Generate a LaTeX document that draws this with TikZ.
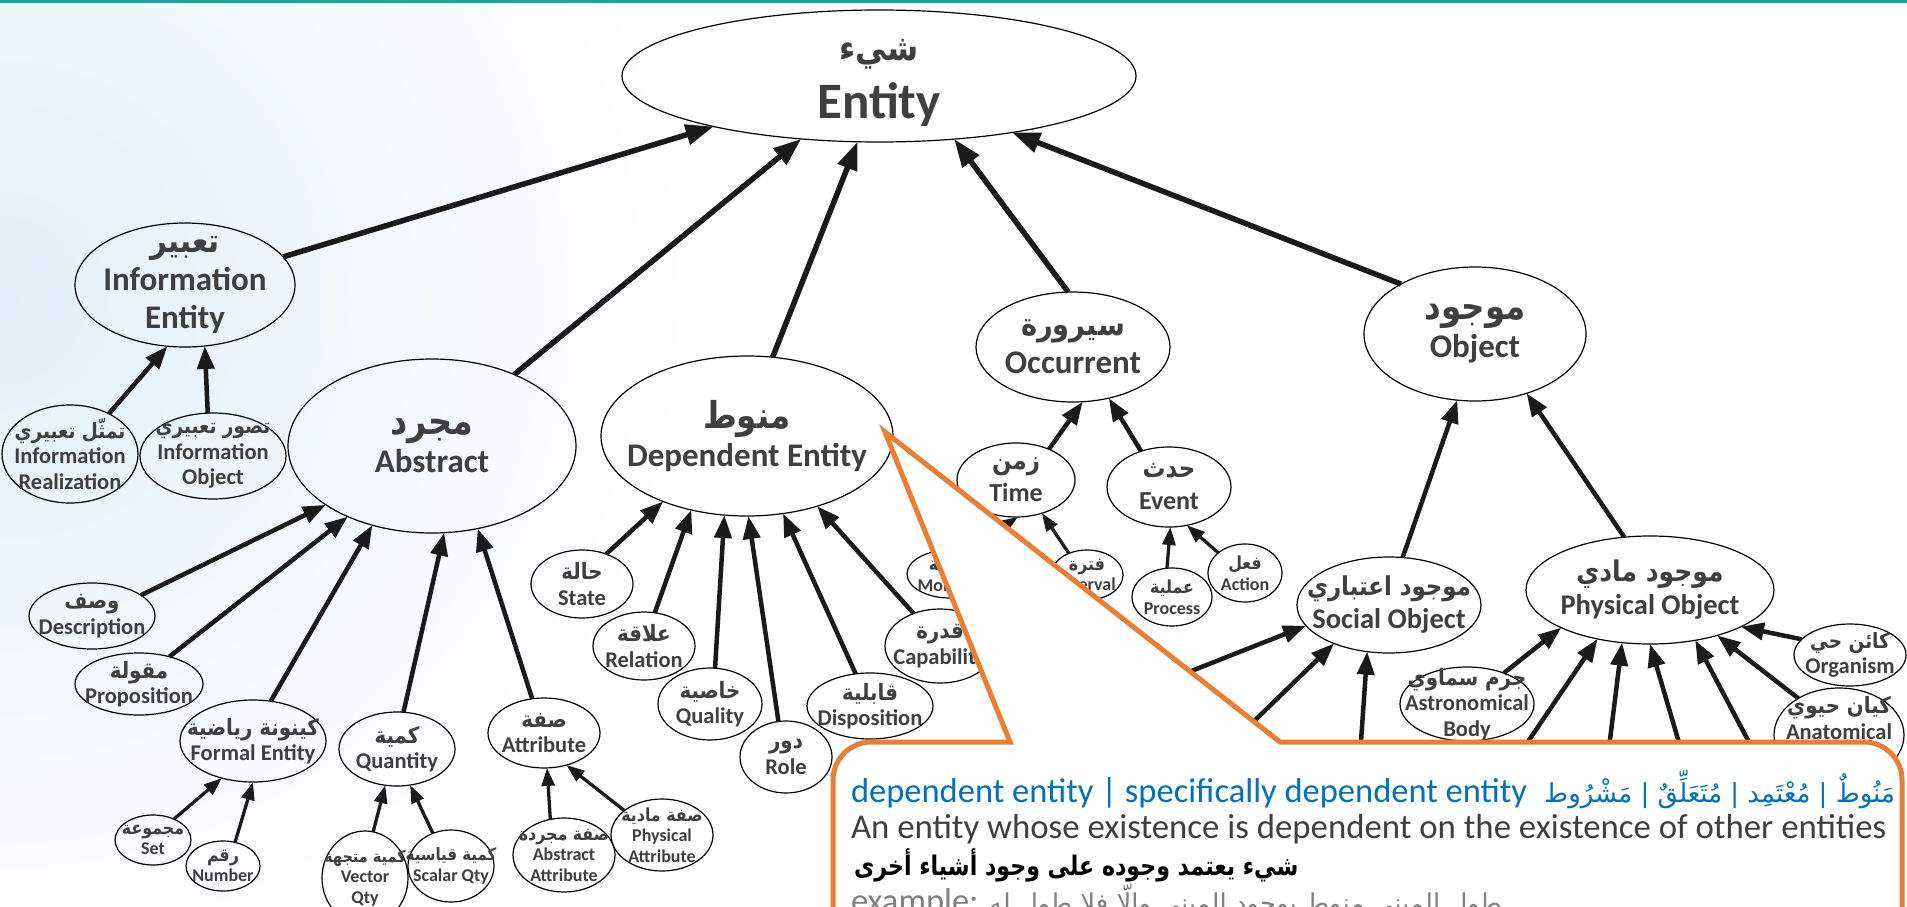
\documentclass[tikz,border=0pt]{standalone}
\usepackage{fontspec}
\setmainfont{Carlito}
\newfontfamily\arfont[Script=Arabic,FakeStretch=0.88]{DejaVu Sans}
\newfontfamily\arnote[Script=Arabic]{DejaVu Sans}
\newfontfamily\arnarrow[Script=Arabic,FakeStretch=0.82]{DejaVu Sans}
\TeXXeTstate=1
\usetikzlibrary{arrows.meta,shapes.geometric}

\definecolor{txtgray}{HTML}{3F3F3F}
\definecolor{arrowblack}{HTML}{1A1A1A}
\definecolor{calloutorange}{HTML}{ED7D31}
\definecolor{calloutblue}{HTML}{0070C0}
\definecolor{topteal}{HTML}{17A89A}
\definecolor{bluetint}{HTML}{E2EFF8}
\definecolor{examplegray}{HTML}{808080}

% Arabic label font (label size, or a given size)
\newcommand\AR[1]{{\arfont #1}}
\newcommand\ARz[2]{{\fontsize{#1}{#1}\selectfont\arfont #2}}

\begin{document}
\begin{tikzpicture}[x=1pt,y=-1pt,
  ent/.style={ellipse, draw=black, line width=1.2pt, inner sep=-300pt, outer sep=0pt, align=center, text=txtgray},
  lbl/.style={align=center, text=txtgray, inner sep=0pt},
  sz/.style 2 args={minimum width=#1pt, minimum height=#2pt},
  fA/.style={font=\fontsize{51}{58}\selectfont\bfseries},
  fB/.style={font=\fontsize{33}{38}\selectfont\bfseries},
  fC/.style={font=\fontsize{28.5}{33}\selectfont\bfseries},
  fD/.style={font=\fontsize{26}{32}\selectfont\bfseries},
  fE/.style={font=\fontsize{22.5}{25.5}\selectfont\bfseries},
  fF/.style={font=\fontsize{18}{20.5}\selectfont\bfseries},
  arL/.style={draw=arrowblack, line width=5.5pt, -{Triangle[length=28pt,width=20pt]}},
  arM/.style={draw=arrowblack, line width=4.5pt, -{Triangle[length=23pt,width=17pt]}},
  arS/.style={draw=arrowblack, line width=3.3pt, -{Triangle[length=18pt,width=13pt]}},
  ctext/.style={inner sep=0pt, outer sep=0pt, font=\fontsize{34.5}{40}\selectfont}
]
\useasboundingbox (0,0) rectangle (1907,907);
\clip (0,0) rectangle (1907,907);

% background
\fill[white] (0,0) rectangle (1907,907);
\shade[inner color=bluetint, outer color=white] (-700,-400) rectangle (700,1000);
\fill[topteal] (0,0) rectangle (1907,3.5);

% ---- top level ----
\node[ent,sz={514}{132}] (ent) at (879,76) {};
\node[lbl,fA] (ent-t) at (879,83) {\ARz{36}{\beginR شيء\endR}\\Entity};

% ---- second level ----
\node[ent,fB,sz={220}{124}] (ie) at (185,285) {\AR{\beginR تعبير\endR}\\Information\\Entity};
\node[ent,fB,sz={288}{174}] (abs) at (432,446) {\ARz{38}{\beginR مجرد\endR}\\Abstract};
\node[ent,fB,sz={292}{160}] (de) at (747,436) {\ARz{37}{\beginR منوط\endR}\\Dependent Entity};
\node[ent,fB,sz={194}{110}] (occ) at (1073,347) {\ARz{31}{\beginR سيرورة\endR}\\Occurrent};
\node[ent,fB,sz={222}{134}] (obj) at (1475,334) {\ARz{37}{\beginR موجود\endR}\\Object};

% ---- information entity ----
\node[ent,fE,sz={136}{98}] (ir) at (70,454) {\ARz{21}{\beginR تمثّل تعبيري\endR}\\Information\\Realization};
\node[ent,fE,sz={146}{86}] (io) at (213,456) {\ARz{21}{\beginR تصور تعبيري\endR}\\Information\\Object};

% ---- abstract ----
\node[ent,fE,sz={126}{66}] (desc) at (92,616) {\AR{\beginR وصف\endR}\\Description};
\node[ent,fE,sz={128}{62}] (prop) at (139,684) {\AR{\beginR مقولة\endR}\\Proposition};
\node[ent,fE,sz={146}{82}] (formal) at (253,741) {\AR{\beginR كينونة رياضية\endR}\\Formal Entity};
\node[ent,fE,sz={116}{74}] (qty) at (397,749) {\AR{\beginR كمية\endR}\\Quantity};
\node[ent,fE,sz={112}{70}] (attr) at (544,733) {\AR{\beginR صفة\endR}\\Attribute};
\node[ent,fF,sz={76}{50}] (set) at (153,840) {\AR{\beginR مجموعة\endR}\\Set};
\node[ent,fF,sz={74}{50}] (num) at (223,866) {\AR{\beginR رقم\endR}\\Number};
\node[ent,fF,sz={86}{94}] (vec) at (365,878) {\ARz{16.5}{\beginR كمية متجهة\endR}\\Vector\\Qty};
\node[ent,fF,sz={86}{72}] (scal) at (451,866) {\ARz{17}{\beginR كمية قياسية\endR}\\Scalar Qty};
\node[ent,fF,sz={102}{74}] (absattr) at (564,855) {\AR{\beginR صفة مجردة\endR}\\Abstract\\Attribute};
\node[ent,fF,sz={102}{72}] (physattr) at (662,835) {\AR{\beginR صفة مادية\endR}\\Physical\\Attribute};

% ---- dependent entity ----
\node[ent,fE,sz={102}{68}] (state) at (582,584) {\AR{\beginR حالة\endR}\\State};
\node[ent,fE,sz={102}{68}] (rel) at (644,646) {\AR{\beginR علاقة\endR}\\Relation};
\node[ent,fE,sz={104}{72}] (qual) at (710,704) {\AR{\beginR خاصية\endR}\\Quality};
\node[ent,fE,sz={92}{72}] (role) at (786,757) {\AR{\beginR دور\endR}\\Role};
\node[ent,fE,sz={126}{66}] (disp) at (870,706) {\AR{\beginR قابلية\endR}\\Disposition};
\node[ent,fE,sz={110}{74}] (cap) at (940,646) {\AR{\beginR قدرة\endR}\\Capability};

% ---- occurrent ----
\node[ent,fD,sz={118}{74}] (time) at (1016,480) {\AR{\beginR زمن\endR}\\Time};
\node[ent,fD,sz={124}{80}] (event) at (1169,487) {\AR{\beginR حدث\endR}\\Event};
\node[ent,fF,sz={86}{48}] (moment) at (950,574) {\AR{\beginR لحظة\endR}\\Moment};
\node[ent,fF,sz={72}{50}] (interval) at (1087,575) {\AR{\beginR فترة\endR}\\Interval};
\node[ent,fF,sz={80}{58}] (process) at (1172,597) {\AR{\beginR عملية\endR}\\Process};
\node[ent,fF,sz={74}{58}] (action) at (1245,573) {\AR{\beginR فعل\endR}\\Action};

% ---- object ----
\node[ent,fC,sz={184}{96}] (soc) at (1389,605) {\ARz{26}{\beginR موجود اعتباري\endR}\\Social Object};
\node[ent,fC,sz={248}{108}] (phys) at (1650,590) {\AR{\beginR موجود مادي\endR}\\Physical Object};
\node[ent,fE,sz={134}{74}] (astro) at (1467,704) {\AR{\beginR جرم سماوي\endR}\\Astronomical\\Body};
\node[ent,fE,sz={112}{62}] (org) at (1850,655) {\ARz{21}{\beginR كائن حي\endR}\\Organism};
\node[ent,sz={130}{94}] (anat) at (1839,735) {};
\node[lbl,fE] (anat-t) at (1839,718) {\AR{\beginR كيان حيوي\endR}\\Anatomical};

% arrow tails that run under the note
\coordinate (h1) at (1502,780);
\coordinate (h2) at (1605,780);
\coordinate (h3) at (1690,780);
\coordinate (h4) at (1769,780);
\coordinate (s1) at (1118,700);
\coordinate (s2) at (1214,760);
\coordinate (s3) at (1359,770);

% ---- is-a arrows ----
\draw[arL] (ie.16) -- (ent.197);
\draw[arL] (abs.41) -- (ent.219);
\draw[arL] (de.72) -- (ent.252);
\draw[arL] (occ.95) -- (ent.-40);
\draw[arL] (obj.146) -- (ent.-23);

\draw[arM] (ir.46) -- (ie.254);
\draw[arM] (io.97) -- (ie.-72);

\draw[arM] (desc.23) -- (abs.209);
\draw[arM] (prop.42) -- (abs.220);
\draw[arM] (formal.66) -- (abs.233);
\draw[arM] (qty.80) -- (abs.-82);
\draw[arM] (attr.109) -- (abs.-61);
\draw[arS] (set.45) -- (formal.230);
\draw[arS] (num.63) -- (formal.-90);
\draw[arS] (vec.80) -- (qty.252);
\draw[arS] (scal.119) -- (qty.-70);
\draw[arS] (absattr.111) -- (attr.-85);
\draw[arS] (physattr.147) -- (attr.-55);

\draw[arM] (state.51) -- (de.218);
\draw[arM] (rel.72) -- (de.233);
\draw[arM] (qual.82) -- (de.254);
\draw[arM] (role.102) -- (de.-89);
\draw[arM] (disp.114) -- (de.-65);
\draw[arM] (cap.129) -- (de.-45);

\draw[arM] (time.43) -- (occ.-80);
\draw[arM] (event.128) -- (occ.-55);
\draw[arS] (moment.55) -- (time.-87);
\draw[arS] (interval.130) -- (time.-52);
\draw[arS] (process.100) -- (event.-88);
\draw[arS] (action.143) -- (event.-65);

\draw[arM] (soc.74) -- (obj.255);
\draw[arM] (phys.116) -- (obj.-49);
\draw[arM] (s1) -- (soc.194);
\draw[arM] (s2) -- (soc.215);
\draw[arM] (s3) -- (soc.245);
\draw[arM] (astro.40) -- (phys.203);
\draw[arM] (h1) -- (phys.223);
\draw[arM] (h2) -- (phys.242);
\draw[arM] (h3) -- (phys.270);
\draw[arM] (h4) -- (phys.-48);
\draw[arM] (anat.138) -- (phys.-34);
\draw[arM] (org.162) -- (phys.-22);

% ---- definition note with pointer ----
\path[draw=calloutorange, line width=5pt, fill=white, line join=miter]
  (1010,742) -- (885,432) -- (1280,742) -- (1864,742)
  arc[start angle=-90, end angle=0, radius=38] -- (1902,1000) -- (833,1000) -- (833,780)
  arc[start angle=180, end angle=270, radius=38] -- cycle;

\node[ctext, anchor=base west, text=calloutblue] (note-en) at (851,802)
  {dependent entity | specifically dependent entity};
\node[ctext, anchor=base east, text=calloutblue, font=\fontsize{26}{32}\selectfont\arnote] (note-ar) at (1895,802)
  {\beginR مَنُوطٌ | مُعْتَمِد | مُتَعَلِّقٌ | مَشْرُوط\endR};
\node[ctext, anchor=base west, text=txtgray, font=\fontsize{34.8}{40}\selectfont] (note-def) at (851,838)
  {An entity whose existence is dependent on the existence of other entities};
\node[ctext, anchor=base west, text=black, font=\fontsize{27}{32}\selectfont\bfseries\arnarrow] (note-ardef) at (854,875)
  {\beginR شيء يعتمد وجوده على وجود أشياء أخرى\endR};
\node[ctext, anchor=base west, text=examplegray] (note-ex) at (851,912)
  {example: {\fontsize{26}{32}\selectfont\arnote\beginR طول المبنى منوط بوجود المبنى وإلّا فلا طول له\endR}};
\end{tikzpicture}
\end{document}
